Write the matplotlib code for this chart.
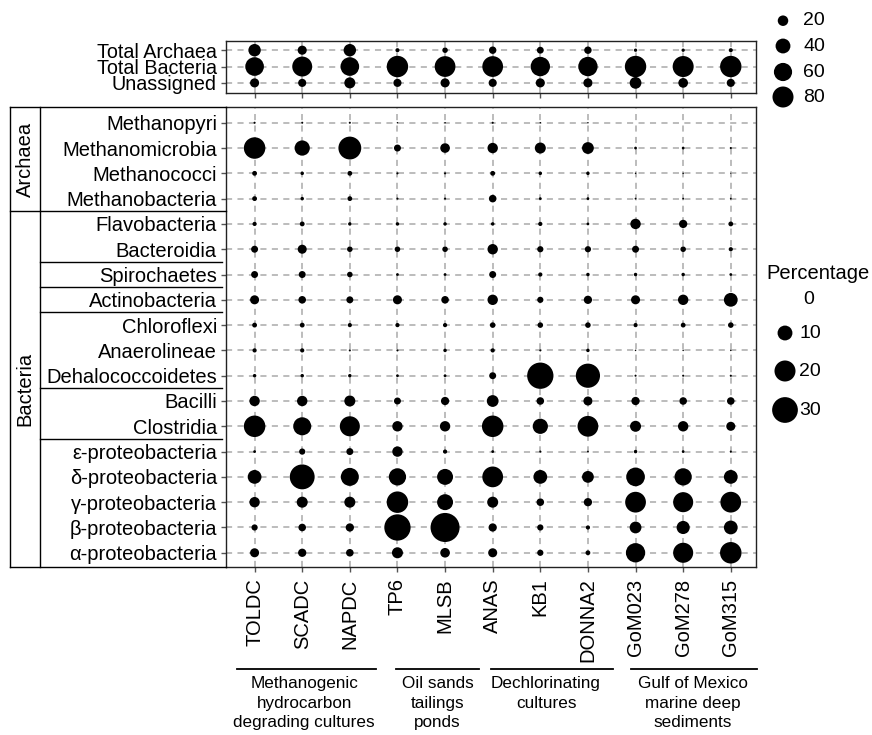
import numpy as np
import matplotlib.pyplot as plt
from matplotlib.transforms import blended_transform_factory

plt.rcParams['font.family'] = ['Liberation Sans', 'DejaVu Sans']

samples = ['TOLDC', 'SCADC', 'NAPDC', 'TP6', 'MLSB', 'ANAS', 'KB1', 'DONNA2',
           'GoM023', 'GoM278', 'GoM315']

# top panel: domain totals (%)
totals = ['Total Archaea', 'Total Bacteria', 'Unassigned']
total_archaea = [28, 15, 28, 3, 5.5, 10, 8.6, 10, 2, 2, 3]
total_bacteria = [63, 72, 63, 83, 78, 78, 68, 68, 83, 80, 83]
unassigned = [15, 12, 22, 12, 15, 12, 15, 15, 25, 17, 12]

# bottom panel: classes (%)
classes = ['Methanopyri', 'Methanomicrobia', 'Methanococci', 'Methanobacteria',
           'Flavobacteria', 'Bacteroidia', 'Spirochaetes', 'Actinobacteria',
           'Chloroflexi', 'Anaerolineae', 'Dehalococcoidetes', 'Bacilli',
           'Clostridia', 'ε-proteobacteria', 'δ-proteobacteria',
           'γ-proteobacteria', 'β-proteobacteria', 'α-proteobacteria']
methanopyri = [0.2, 0.2, 0.2, 0.1, 0.1, 0.2, 0.1, 0.1, 0, 0, 0]
methanomicrobia = [20.9, 10.5, 23.6, 2.2, 4.2, 4.9, 5.5, 6.3, 0.35, 0.35, 0.2]
methanococci = [1.05, 0.55, 1.05, 0.2, 0.2, 1.05, 0.55, 0.55, 0.1, 0.1, 0.05]
methanobacteria = [1.05, 0.55, 1.05, 0.2, 0.2, 2.6, 0.35, 0.35, 0.15, 0.15, 0.15]
flavobacteria = [0.8, 1.05, 0.55, 0.55, 0.55, 0.55, 0.8, 0.35, 4.9, 3.1, 1.05]
bacteroidia = [2.2, 3.7, 1.4, 1.4, 1.4, 4.9, 1.75, 1.75, 2.2, 1.4, 0.8]
spirochaetes = [2.2, 2.2, 1.4, 0.35, 0.35, 2.2, 0.8, 0.55, 0.55, 0.55, 0.35]
actinobacteria = [3.7, 2.6, 2.2, 3.7, 2.6, 4.9, 1.75, 3.1, 3.7, 4.9, 8.6]
chloroflexi = [1.05, 1.05, 0.8, 0.8, 0.8, 1.4, 1.4, 1.4, 0.8, 1.05, 1.4]
anaerolineae = [0.8, 0.8, 0.2, 0.2, 0.55, 0.8, 0.2, 0.55, 0.1, 0.1, 0.1]
dehalococcoidetes = [0.55, 0.55, 0.55, 0.35, 0.35, 2.2, 31.3, 26.5, 0.2, 0.2, 0.2]
bacilli = [4.9, 4.9, 5.5, 2.2, 3.1, 6.3, 2.6, 3.7, 3.1, 2.6, 2.6]
clostridia = [20.9, 14.7, 18.2, 4.9, 4.9, 20.9, 10.5, 19.5, 5.5, 4.9, 3.7]
epsilon = [0.35, 1.75, 2.2, 4.9, 0.8, 0.35, 0.2, 0.15, 0.55, 0.35, 0.2]
delta = [8.6, 28, 14.7, 13.5, 11.5, 19.5, 8.6, 6.3, 15.8, 13.5, 8.6]
gamma = [4.9, 5.5, 5.5, 20.9, 11.5, 5.5, 2.6, 3.1, 19.5, 18.2, 19.5]
beta = [1.75, 2.6, 3.1, 31.3, 38.2, 3.1, 1.75, 0.8, 6.3, 7.8, 8.6]
alpha = [3.7, 3.1, 2.6, 5.5, 4.2, 3.7, 1.75, 1.05, 16.9, 18.2, 20.9]

top_vals = np.array([total_archaea, total_bacteria, unassigned])
class_vals = np.array([methanopyri, methanomicrobia, methanococci, methanobacteria,
                       flavobacteria, bacteroidia, spirochaetes, actinobacteria,
                       chloroflexi, anaerolineae, dehalococcoidetes, bacilli,
                       clostridia, epsilon, delta, gamma, beta, alpha])

top_legend = [20, 40, 60, 80]
pct_legend = [0, 10, 20, 30]

# side brackets / separators
domains = ['Archaea', 'Bacteria']
domain_split = 3.5
phylum_splits = [5.5, 6.5, 7.5, 10.5, 12.5]

groups = ['Methanogenic\nhydrocarbon\ndegrading cultures', 'Oil sands\ntailings\nponds',
          'Dechlorinating\ncultures', 'Gulf of Mexico\nmarine deep\nsediments']
group_spans = [(-0.36, 2.54), (2.96, 4.72), (4.96, 7.52), (7.9, 10.56)]
group_centers = [1.04, 3.84, 6.12, 9.2]


def size_top(v):
    return 2.86 * np.asarray(v, dtype=float)


def size_pct(v):
    return 11.45 * np.asarray(v, dtype=float)


fig = plt.figure(figsize=(8.72, 7.35), dpi=100)
ax_top = fig.add_axes([0.2592, 0.8739, 0.6078, 0.0707])
ax = fig.add_axes([0.2592, 0.229, 0.6078, 0.625])
ov = fig.add_axes([0, 0, 1, 1])
ov.set_xlim(0, 872)
ov.set_ylim(735, 0)
ov.axis('off')

grid_kw = dict(linestyle=(0, (4, 3.5)), color='#aaaaaa', linewidth=1.1)
nx = len(samples)

for a, labels, vals, sfun in [(ax_top, totals, top_vals, size_top),
                              (ax, classes, class_vals, size_pct)]:
    ny = len(labels)
    xx, yy = np.meshgrid(np.arange(nx), np.arange(ny))
    a.scatter(xx.ravel(), yy.ravel(), s=sfun(vals.ravel()), c='black',
              linewidths=0, zorder=3)
    a.set_xticks(np.arange(nx))
    a.set_yticks(np.arange(ny))
    a.set_yticklabels(labels)
    a.grid(True, **grid_kw)
    a.set_axisbelow(True)
    a.set_xlim(-0.6, nx - 1 + 0.53)
    a.tick_params(axis='both', length=3.5, width=1, color='#555555',
                  labelsize=14.5)
    a.tick_params(axis='y', pad=3)
    for sp in a.spines.values():
        sp.set_linewidth(1.0)
        sp.set_color('#222222')

ax_top.set_ylim(2.6, -0.58)
ax_top.set_xticklabels([])
ax_top.tick_params(axis='y', labelsize=14.2)
ax.set_ylim(len(classes) - 1 + 0.55, -0.61)
ax.set_xticklabels(samples, rotation=90)
ax.tick_params(axis='x', pad=5)

# left bracket frame
y0, y1 = ax.get_ylim()[1], ax.get_ylim()[0]
tr = blended_transform_factory(ov.transData, ax.transData)
kw = dict(color='black', linewidth=1.0, transform=tr, clip_on=False)
ov.plot([10, 10], [y0, y1], **kw)
ov.plot([40, 40], [y0, y1], **kw)
ov.plot([10, 226], [y0, y0], **kw)
ov.plot([10, 226], [y1, y1], **kw)
ov.plot([10, 226], [domain_split, domain_split], **kw)
for ys in phylum_splits:
    ov.plot([40, 222], [ys, ys], **kw)
ov.text(25, (y0 + domain_split) / 2, domains[0], rotation=90, ha='center',
        va='center', fontsize=14.5, transform=tr)
ov.text(25, (domain_split + y1) / 2, domains[1], rotation=90, ha='center',
        va='center', fontsize=14.5, transform=tr)

# sample groups under the x labels
trx = blended_transform_factory(ax.transData, ov.transData)
for name, (g0, g1), gc in zip(groups, group_spans, group_centers):
    ov.plot([g0, g1], [669, 669], color='black', linewidth=1.3,
            transform=trx, clip_on=False)
    ov.text(gc, 676, name, ha='center', va='top', fontsize=12.3,
            linespacing=1.38, transform=trx)

# legends
top_leg_y = [20.7, 46, 72, 97]
ov.scatter([783] * 4, top_leg_y, s=size_top(top_legend), c='black', linewidths=0)
for v, y in zip(top_legend, top_leg_y):
    ov.text(803, y, str(v), ha='left', va='center', fontsize=14)

ov.text(818, 273, 'Percentage', ha='center', va='center', fontsize=14.5)
pct_leg_y = [299, 333, 371, 410]
ov.scatter([785] * 4, pct_leg_y, s=size_pct(pct_legend), c='black', linewidths=0)
for v, y in zip(pct_legend, pct_leg_y):
    ov.text(799 if v else 803, y, str(v), ha='left', va='center', fontsize=14)

fig.savefig('out.png', dpi=100)
